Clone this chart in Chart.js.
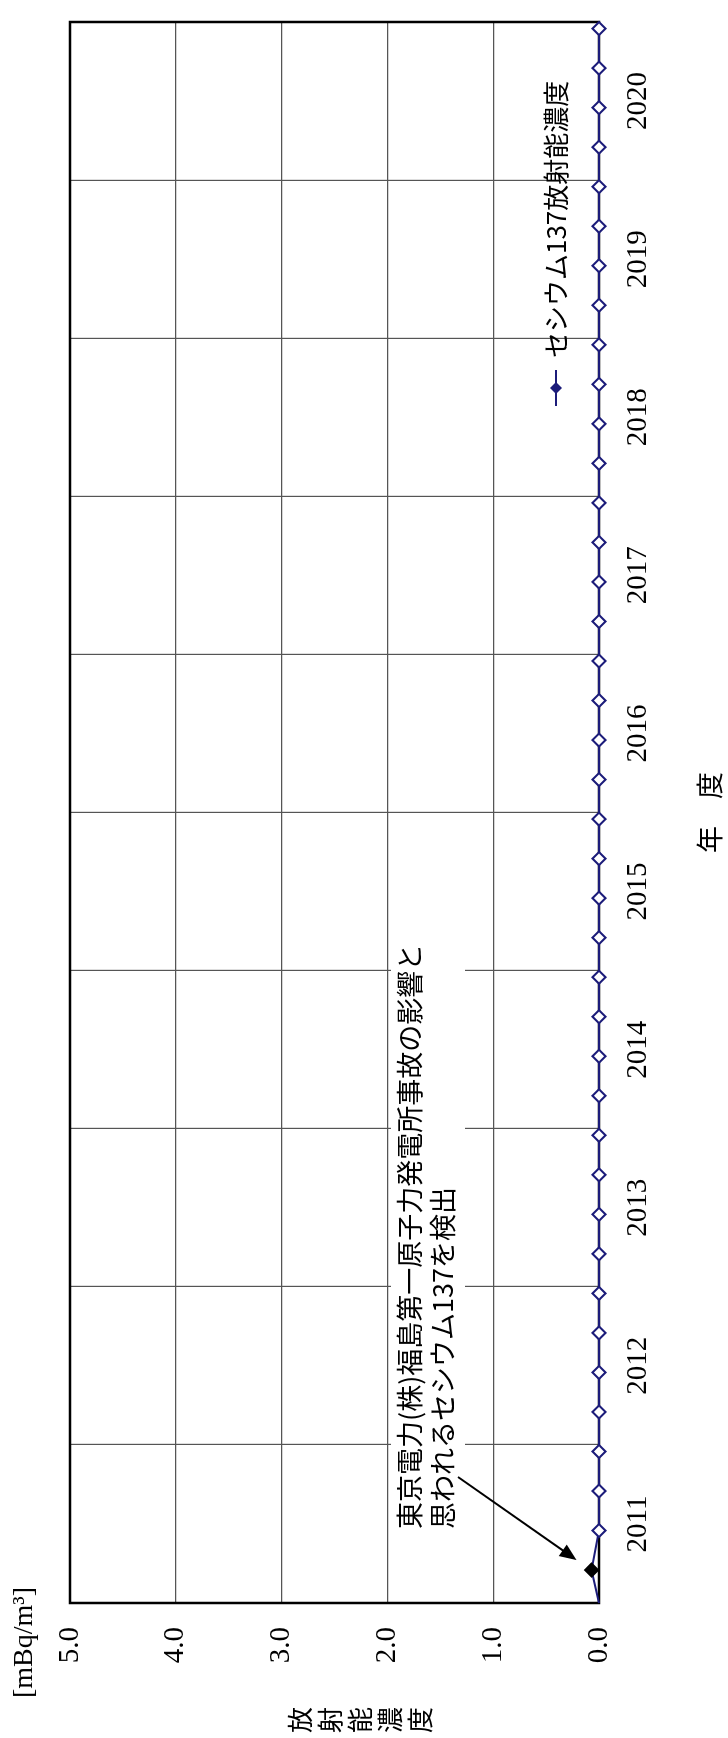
<!DOCTYPE html>
<html lang="ja">
<head>
<meta charset="utf-8">
<title>セシウム137放射能濃度</title>
<script src="https://cdn.jsdelivr.net/npm/chart.js@4.4.1/dist/chart.umd.min.js"></script>
<style>
  html, body { margin: 0; padding: 0; background: #fff; width: 728px; height: 1738px; overflow: hidden; }
  /* the chart is drawn in landscape and turned a quarter turn, like the printed page */
  #wrap { position: absolute; left: 0; top: 0; width: 1738px; height: 728px;
          transform-origin: 0 0; transform: translate(0, 1738px) rotate(-90deg); }
</style>
</head>
<body>
<div id="wrap"><canvas id="myChart" width="1738" height="728"></canvas></div>
<script>
// 年度と四半期ごとの採取月（年度初めからの月数）
const fiscalYears = ['2011', '2012', '2013', '2014', '2015', '2016', '2017', '2018', '2019', '2020'];
const quarterMonths = [2.5, 5.5, 8.5, 11.5];
const startMonth = 0;

// セシウム137 [mBq/m3]  先頭は年度初め、2番目が事故の影響で検出された値
const cs137 = [
  0, 0.07, 0, 0, 0,
  0, 0, 0, 0,
  0, 0, 0, 0,
  0, 0, 0, 0,
  0, 0, 0, 0,
  0, 0, 0, 0,
  0, 0, 0, 0,
  0, 0, 0, 0,
  0, 0, 0, 0,
  0, 0, 0, 0
];
const detectedIndex = 1;

const valueTicks = [0, 1, 2, 3, 4, 5];
const seriesName = 'セシウム137放射能濃度';
const unitLabel = '[mBq/m³]';
const valueTitle = '放射能濃度';
const yearTitle = '年　度';
const noteLines = ['東京電力(株)福島第一原子力発電所事故の影響と', '思われるセシウム137を検出'];

const NAVY = '#1c1c7a';
const GRID = '#555555';
const SERIF = "'Liberation Serif', 'DejaVu Serif', serif";
const JP = "'Noto Sans CJK JP', sans-serif";

// x（年度の小数）を作る
const xs = [Number(fiscalYears[0]) + startMonth / 12];
fiscalYears.forEach(y => quarterMonths.forEach(m => xs.push(Number(y) + m / 12)));
const points = cs137.map((v, i) => ({ x: xs[i], y: v }));

const firstYear = Number(fiscalYears[0]);
const lastYear = Number(fiscalYears[fiscalYears.length - 1]) + 1;

// 枠線
const framePlugin = {
  id: 'frame',
  beforeDatasetsDraw(chart) {
    const a = chart.chartArea;
    const c = chart.ctx;
    c.save();
    c.strokeStyle = '#000';
    c.lineWidth = 2.5;
    c.strokeRect(a.left, a.top, a.right - a.left, a.bottom - a.top);
    c.restore();
  }
};

// 注記・凡例・単位
const textPlugin = {
  id: 'texts',
  beforeDatasetsDraw(chart) {
    const c = chart.ctx;
    const a = chart.chartArea;
    const meta = chart.getDatasetMeta(0);
    const pt = meta.data[detectedIndex];

    // note with white box
    const nx = a.left + 74;
    const ny1 = 410, ny2 = 443;
    c.save();
    c.font = '27px ' + JP;
    const w1 = c.measureText(noteLines[0]).width;
    c.fillStyle = '#fff';
    c.fillRect(nx - 4, 391, w1 + 10, 74);
    c.fillStyle = '#000';
    c.textBaseline = 'middle';
    c.fillText(noteLines[0], nx, ny1);
    c.fillText(noteLines[1], nx, ny2);

    // arrow to the detected value
    const sx = nx + 52, sy = ny2 + 15;
    const tx = pt.x + 10, ty = pt.y - 15;
    const ang = Math.atan2(ty - sy, tx - sx);
    c.strokeStyle = '#000';
    c.lineWidth = 2;
    c.beginPath();
    c.moveTo(sx, sy);
    c.lineTo(tx - 14 * Math.cos(ang), ty - 14 * Math.sin(ang));
    c.stroke();
    c.beginPath();
    c.moveTo(tx, ty);
    c.lineTo(tx - 17 * Math.cos(ang) + 7 * Math.sin(ang), ty - 17 * Math.sin(ang) - 7 * Math.cos(ang));
    c.lineTo(tx - 17 * Math.cos(ang) - 7 * Math.sin(ang), ty - 17 * Math.sin(ang) + 7 * Math.cos(ang));
    c.closePath();
    c.fillStyle = '#000';
    c.fill();

    // legend
    const ly = a.bottom - 43;
    const lx = a.right - 366;
    c.strokeStyle = NAVY;
    c.lineWidth = 2;
    c.beginPath();
    c.moveTo(lx - 18, ly);
    c.lineTo(lx + 18, ly);
    c.stroke();
    c.beginPath();
    c.moveTo(lx, ly - 6);
    c.lineTo(lx + 6, ly);
    c.lineTo(lx, ly + 6);
    c.lineTo(lx - 6, ly);
    c.closePath();
    c.fillStyle = NAVY;
    c.fill();
    c.fillStyle = '#000';
    c.font = '26px ' + JP;
    c.fillText(seriesName, lx + 30, ly);
    c.restore();
  },
  afterDraw(chart) {
    const c = chart.ctx;
    c.save();
    c.fillStyle = '#000';
    c.textBaseline = 'middle';
    c.font = '28px ' + SERIF;
    c.fillText(unitLabel, 40, 25);
    // 縦書きの軸名
    c.font = '26px ' + JP;
    c.textAlign = 'center';
    for (let i = 0; i < valueTitle.length; i++) {
      c.fillText(valueTitle[i], 18, 300 + i * 30);
    }
    c.restore();
  }
};

const ctx = document.getElementById('myChart').getContext('2d');

window.myChart = new Chart(ctx, {
  type: 'line',
  data: {
    datasets: [{
      label: seriesName,
      data: points,
      borderColor: NAVY,
      borderWidth: 2,
      pointStyle: 'rectRot',
      pointRadius: c => (c.dataIndex === 0 ? 0 : 6.5),
      pointBorderWidth: 2,
      pointBorderColor: c => (c.dataIndex === detectedIndex ? '#000' : NAVY),
      pointBackgroundColor: c => (c.dataIndex === detectedIndex ? '#000' : '#fff'),
      tension: 0,
      clip: false
    }]
  },
  options: {
    responsive: false,
    animation: false,
    layout: { padding: { left: 0, right: 14, top: 70, bottom: 0 } },
    plugins: { legend: { display: false }, tooltip: { enabled: false } },
    scales: {
      x: {
        type: 'linear',
        min: firstYear,
        max: lastYear,
        afterBuildTicks(scale) {
          const t = [];
          fiscalYears.forEach(y => {
            t.push({ value: Number(y) });
            t.push({ value: Number(y) + 0.5 });
          });
          t.push({ value: lastYear });
          scale.ticks = t;
        },
        afterFit(scale) { scale.height = 129; },
        grid: {
          color: c => (c.tick && c.tick.value % 1 === 0 ? GRID : 'rgba(0,0,0,0)'),
          lineWidth: 1.2,
          drawTicks: false
        },
        border: { display: false },
        ticks: {
          autoSkip: false,
          maxRotation: 0,
          padding: 22,
          color: '#000',
          font: { family: SERIF, size: 29 },
          callback: v => (v % 1 !== 0 ? String(Math.floor(v)) : '')
        },
        title: {
          display: true,
          text: yearTitle,
          color: '#000',
          font: { family: JP, size: 27 },
          padding: { top: 0, bottom: 2 }
        }
      },
      y: {
        min: valueTicks[0],
        max: valueTicks[valueTicks.length - 1],
        afterBuildTicks(scale) { scale.ticks = valueTicks.map(v => ({ value: v })); },
        afterFit(scale) { scale.width = 135; },
        grid: { color: GRID, lineWidth: 1.2, drawTicks: false },
        border: { display: false },
        ticks: {
          padding: 24,
          color: '#000',
          font: { family: SERIF, size: 29 },
          callback: v => v.toFixed(1)
        }
      }
    }
  },
  plugins: [framePlugin, textPlugin]
});
</script>
</body>
</html>
